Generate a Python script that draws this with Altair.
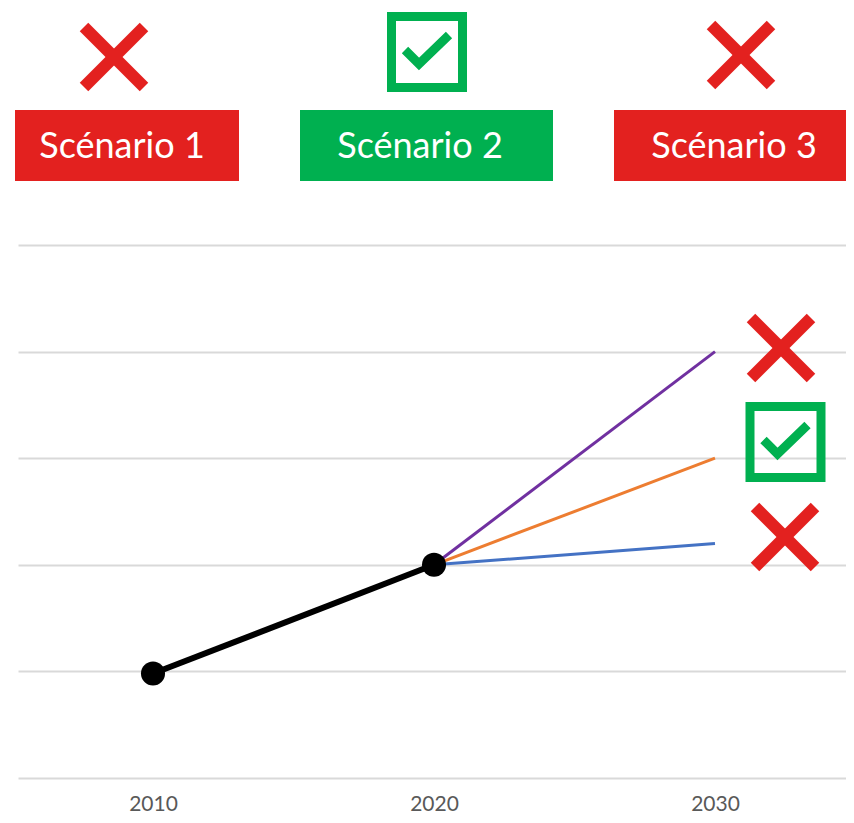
import altair as alt
import pandas as pd

# ---------------- data ----------------
hist_years = [2010, 2020]
hist_values = [0.98, 2.0]

scen_years = [2020, 2030]
scen_start = 2.0
scen_series = ["Scénario 3", "Scénario 2", "Scénario 1"]
scen_end = [4.0, 3.0, 2.2]
scen_colors = ["#7030A0", "#ED7D31", "#4472C4"]

header_labels = ["Scénario 1", "Scénario 2", "Scénario 3"]
header_ok = [False, True, False]
side_ok = [False, True, False]

tick_years = [2010, 2020, 2030]
grid_values = [0, 1, 2, 3, 4, 5]

RED = "#E3211F"
GREEN = "#00B050"

# ---------------- layout (page pixels -> data units) ----------------
W, H = 828, 770
PAD_L, PAD_T = 10, 0
PX_PER_YEAR = 28.1
X0_PX, X0_YEAR = 153, 2010
Y0_PX, PX_PER_UNIT = 778, 106.6


def dx(px):
    return X0_YEAR + (px - X0_PX) / PX_PER_YEAR


def dy(py):
    return (Y0_PX - py) / PX_PER_UNIT


x_dom = [dx(8 + PAD_L), dx(8 + PAD_L + W)]
y_dom = [0, dy(8 + PAD_T)]

xs = alt.Scale(domain=x_dom, nice=False, zero=False)
ys = alt.Scale(domain=y_dom, nice=False, zero=False)

# header boxes
box_left = [15, 300, 614]
box_right = [239, 553, 860]
box_text_x = [122, 420, 734]
box_top, box_bot, box_text_y = 110, 181, 147
boxes = pd.DataFrame({
    "label": header_labels,
    "x": [dx(v) for v in box_left],
    "x2": [dx(v) for v in box_right],
    "tx": [dx(v) for v in box_text_x],
    "y": dy(box_top), "y2": dy(box_bot), "ty": dy(box_text_y),
    "ok": header_ok,
})

# icon centres (page px)
icon_centres = [(114, 57, header_ok[0]), (427, 52, header_ok[1]), (741, 55, header_ok[2]),
                (781, 348, side_ok[0]), (785.5, 442, side_ok[1]), (785, 537, side_ok[2])]

cross_rows, box_rows, check_rows = [], [], []
CH = 30
for i, (cx, cy, ok) in enumerate(icon_centres):
    if ok:
        box_rows.append({"id": i, "x": dx(cx - 35.5), "x2": dx(cx + 35.5),
                         "y": dy(cy - 35.5), "y2": dy(cy + 35.5)})
        for k, (ox, oy) in enumerate([(-22, -2), (-8, 12), (22, -17)]):
            check_rows.append({"id": i, "k": k, "x": dx(cx + ox), "y": dy(cy + oy)})
    else:
        cross_rows.append({"id": f"{i}a", "x": dx(cx - CH), "y": dy(cy - CH),
                           "x2": dx(cx + CH), "y2": dy(cy + CH)})
        cross_rows.append({"id": f"{i}b", "x": dx(cx - CH), "y": dy(cy + CH),
                           "x2": dx(cx + CH), "y2": dy(cy - CH)})

crosses = pd.DataFrame(cross_rows)
cboxes = pd.DataFrame(box_rows)
checks = pd.DataFrame(check_rows)

# ---------------- data frames for lines ----------------
hist = pd.DataFrame({"year": hist_years, "value": hist_values})
scen_rows = []
for s, e in zip(scen_series, scen_end):
    scen_rows.append({"series": s, "year": scen_years[0], "value": scen_start})
    scen_rows.append({"series": s, "year": scen_years[1], "value": e})
scen = pd.DataFrame(scen_rows)

# ---------------- chart ----------------
base_x = alt.X("year:Q", scale=xs,
               axis=alt.Axis(values=tick_years, format="d", grid=False, domain=False,
                             ticks=False, labelFont="Lato", labelFontSize=21,
                             labelColor="#595959", labelPadding=15, title=None))
base_y = alt.Y("value:Q", scale=ys,
               axis=alt.Axis(values=grid_values, grid=True, gridColor="#D9D9D9",
                             gridWidth=2, labels=False, ticks=False, domain=False,
                             title=None))

lines = alt.Chart(scen).mark_line(strokeWidth=3).encode(
    x=base_x, y=base_y,
    color=alt.Color("series:N", scale=alt.Scale(domain=scen_series, range=scen_colors),
                    legend=None),
)

hist_line = alt.Chart(hist).mark_line(color="black", strokeWidth=6).encode(
    x=alt.X("year:Q", scale=xs), y=alt.Y("value:Q", scale=ys))
hist_pts = alt.Chart(hist).mark_circle(color="black", size=580, opacity=1).encode(
    x=alt.X("year:Q", scale=xs), y=alt.Y("value:Q", scale=ys))

box_rect = alt.Chart(boxes).mark_rect().encode(
    x=alt.X("x:Q", scale=xs), x2="x2:Q",
    y=alt.Y("y:Q", scale=ys), y2="y2:Q",
    color=alt.Color("ok:N", scale=alt.Scale(domain=[False, True], range=[RED, GREEN]),
                    legend=None),
)
box_text = alt.Chart(boxes).mark_text(color="white", font="Lato", fontSize=36,
                                      align="center", baseline="middle").encode(
    x=alt.X("tx:Q", scale=xs), y=alt.Y("ty:Q", scale=ys), text="label:N")

cross_marks = alt.Chart(crosses).mark_rule(color=RED, strokeWidth=12, strokeCap="butt").encode(
    x=alt.X("x:Q", scale=xs), x2="x2:Q",
    y=alt.Y("y:Q", scale=ys), y2="y2:Q", detail="id:N")

cbox_marks = alt.Chart(cboxes).mark_rect(fill=None, fillOpacity=0, stroke=GREEN,
                                         strokeWidth=9).encode(
    x=alt.X("x:Q", scale=xs), x2="x2:Q",
    y=alt.Y("y:Q", scale=ys), y2="y2:Q")

check_marks = alt.Chart(checks).mark_line(color=GREEN, strokeWidth=9, strokeCap="butt",
                                          strokeJoin="miter").encode(
    x=alt.X("x:Q", scale=xs), y=alt.Y("y:Q", scale=ys),
    detail="id:N", order="k:Q")

chart = alt.layer(
    lines, hist_line, hist_pts, box_rect, box_text, cross_marks, cbox_marks, check_marks
).resolve_scale(color="independent").properties(
    width=W, height=H,
    autosize=alt.AutoSizeParams(type="none"),
    padding={"left": PAD_L, "top": PAD_T, "right": 0, "bottom": 37},
    background="white",
).configure_view(stroke=None)

chart.save("out.html", embed_options={"renderer": "svg", "actions": False})
